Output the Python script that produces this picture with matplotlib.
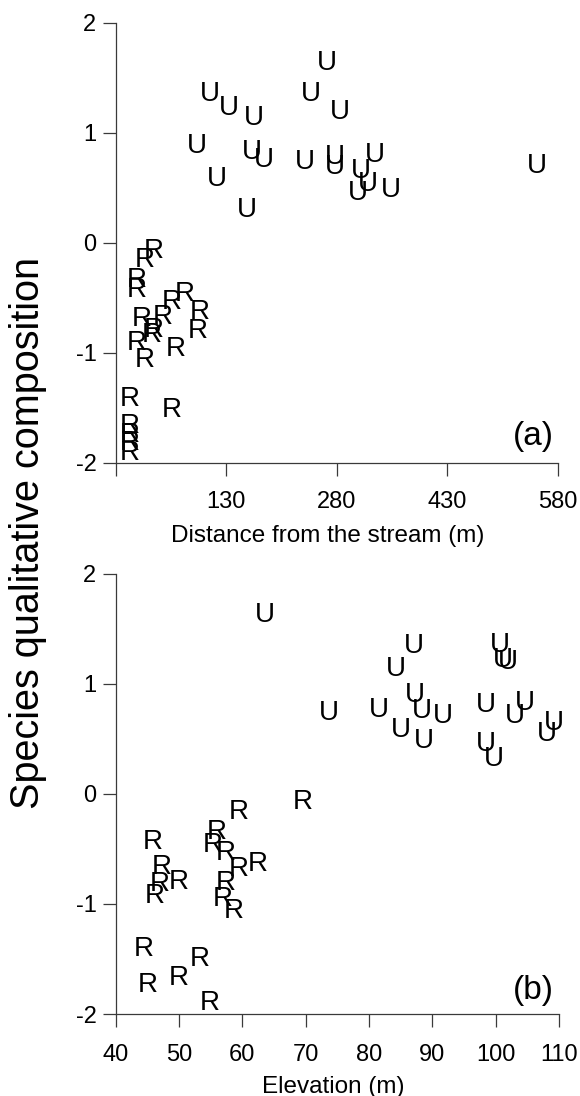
import matplotlib
matplotlib.use('Agg')
import matplotlib.pyplot as plt
from matplotlib.transforms import offset_copy

plt.rcParams['font.family'] = ['Liberation Sans', 'DejaVu Sans']
plt.rcParams['axes.unicode_minus'] = False

# panel (a): distance from the stream
top_u_x = [266, 108, 133, 167, 245, 284, 90, 165, 181, 237, 278, 278, 332, 313, 322, 309, 353, 117, 158, 552]
top_u_y = [1.66, 1.38, 1.25, 1.16, 1.38, 1.22, 0.91, 0.85, 0.78, 0.76, 0.81, 0.72, 0.83, 0.68, 0.56, 0.48, 0.51, 0.61, 0.33, 0.73]
top_r_x = [32, 19, 8, 8, 74, 56, 94, 44, 15, 92, 31, 29, 9, 62, 19, -1, 56, -1, -1, -1, -1]
top_r_y = [-0.05, -0.13, -0.31, -0.40, -0.44, -0.51, -0.60, -0.65, -0.66, -0.77, -0.76, -0.81, -0.88, -0.94, -1.04,
           -1.39, -1.49, -1.64, -1.72, -1.79, -1.88]

# panel (b): elevation
bot_u_x = [63.6, 87.0, 84.3, 100.6, 101.2, 101.9, 73.6, 81.5, 87.3, 88.3, 91.7, 85.1, 88.7, 98.5, 104.6, 103.0, 109.2, 108.0, 98.4, 99.7]
bot_u_y = [1.65, 1.37, 1.16, 1.38, 1.24, 1.22, 0.76, 0.79, 0.92, 0.78, 0.73, 0.61, 0.51, 0.83, 0.85, 0.73, 0.67, 0.57, 0.48, 0.34]
bot_r_x = [69.5, 59.4, 45.8, 55.9, 55.4, 57.3, 47.3, 59.4, 62.4, 50.0, 47.0, 46.2, 57.4, 56.9, 58.6, 44.5, 53.3, 50.0, 45.1, 54.9]
bot_r_y = [-0.05, -0.14, -0.41, -0.32, -0.44, -0.51, -0.64, -0.66, -0.61, -0.77, -0.79, -0.90, -0.78, -0.93, -1.04,
           -1.38, -1.47, -1.65, -1.71, -1.87]

top_xticks = [-20, 130, 280, 430, 580]
top_xticklabels = ['', '130', '280', '430', '580']
bot_xticks = [40, 50, 60, 70, 80, 90, 100, 110]
yticks = [-2, -1, 0, 1, 2]

fig = plt.figure(figsize=(5.8, 10.96), dpi=100)
ax1 = fig.add_axes([0.1995, 0.5776, 0.762, 0.4015])
ax2 = fig.add_axes([0.1995, 0.0748, 0.7644, 0.4019])

spine_col = '#3a3a3a'


def style(ax, pad_x):
    for s in ['top', 'right']:
        ax.spines[s].set_visible(False)
    for s in ['left', 'bottom']:
        ax.spines[s].set_color(spine_col)
        ax.spines[s].set_linewidth(0.9)
    ax.tick_params(axis='both', direction='out', length=9.4, width=0.9,
                   color=spine_col, labelsize=17)
    ax.tick_params(axis='x', pad=pad_x)
    ax.tick_params(axis='y', pad=4.5)
    ax.set_ylim(-2, 2)
    ax.set_yticks(yticks)


def letters(ax, xs, ys, ch):
    # centre the capital letter on the data point
    tr = offset_copy(ax.transData, fig=fig, x=0, y=-7.2, units='points')
    for x, y in zip(xs, ys):
        ax.text(x, y, ch, transform=tr, ha='center', va='baseline',
                fontsize=20, color='black', clip_on=False)


style(ax1, 11)
ax1.set_xlim(-20, 580)
ax1.set_xticks(top_xticks)
ax1.set_xticklabels(top_xticklabels)
letters(ax1, top_u_x, top_u_y, 'U')
letters(ax1, top_r_x, top_r_y, 'R')
ax1.text(0.944, 0.061, '(a)', transform=ax1.transAxes, ha='center', va='center', fontsize=24)

style(ax2, 12.5)
ax2.set_xlim(40, 110)
ax2.set_xticks(bot_xticks)
letters(ax2, bot_u_x, bot_u_y, 'U')
letters(ax2, bot_r_x, bot_r_y, 'R')
ax2.text(0.941, 0.054, '(b)', transform=ax2.transAxes, ha='center', va='center', fontsize=24)

fig.text(328 / 580, 1 - 542 / 1096, 'Distance from the stream (m)', ha='center', va='baseline', fontsize=17.5)
fig.text(333 / 580, 1 - 1093 / 1096, 'Elevation (m)', ha='center', va='baseline', fontsize=17.5)
fig.text(28 / 580, 1 - 533 / 1096, 'Species qualitative composition', rotation=90,
         ha='center', va='center', fontsize=28.5)

fig.savefig('out.png', dpi=100)
